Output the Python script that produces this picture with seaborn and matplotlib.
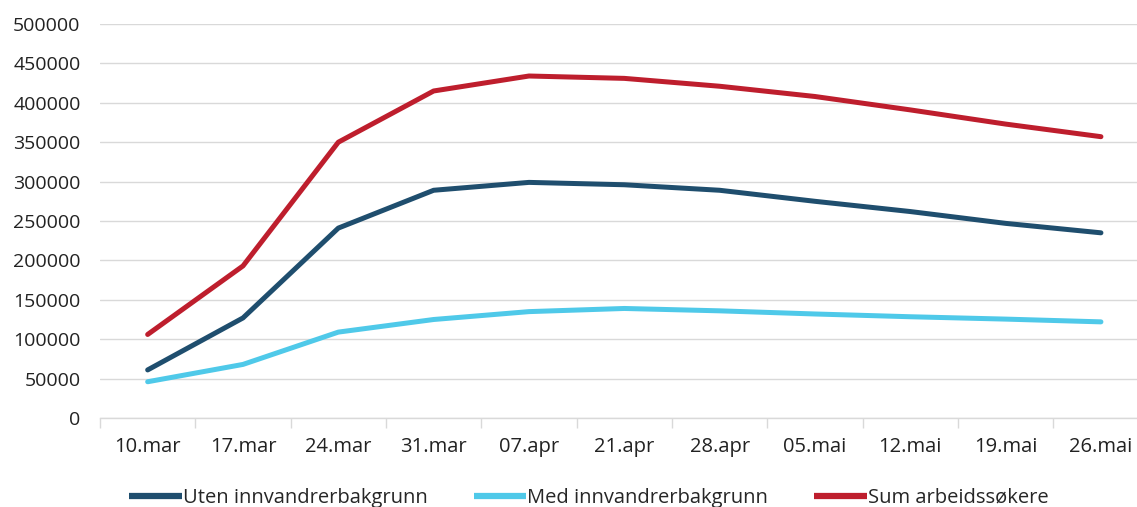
import numpy as np
import pandas as pd
import seaborn as sns
import matplotlib.pyplot as plt
from matplotlib.ticker import FixedLocator, FuncFormatter

# ── data ────────────────────────────────────────────────
weeks = ["10.mar", "17.mar", "24.mar", "31.mar", "07.apr", "21.apr",
         "28.apr", "05.mai", "12.mai", "19.mai", "26.mai"]
uten = [61000, 127000, 241000, 289000, 299000, 296000, 289000, 275000, 262000, 247000, 235000]
med = [46000, 68000, 109000, 125000, 135000, 139000, 136000, 132000, 128500, 125500, 122000]
total = [106000, 193000, 350000, 415000, 434000, 431000, 421000, 408000, 391000, 373000, 357000]

series = {"Uten innvandrerbakgrunn": uten,
          "Med innvandrerbakgrunn": med,
          "Sum arbeidssøkere": total}
colors = {"Uten innvandrerbakgrunn": "#1F4E6E",
          "Med innvandrerbakgrunn": "#4FC9E9",
          "Sum arbeidssøkere": "#BE1E2D"}

df = pd.concat([pd.DataFrame({"uke": weeks, "antall": v, "serie": k})
                for k, v in series.items()], ignore_index=True)

# ── style ───────────────────────────────────────────────
sns.set_theme(style="white")
plt.rcParams["font.family"] = ["Open Sans", "DejaVu Sans"]

fig = plt.figure(figsize=(11.37, 5.07), dpi=100)
ax = fig.add_axes([100 / 1137, 1 - 418 / 507, 1048.6 / 1137, 394 / 507])

sns.lineplot(data=df, x="uke", y="antall", hue="serie", palette=colors,
             linewidth=3.6, sort=False, legend=False, ax=ax,
             solid_capstyle="round")

ax.set_xlim(-0.5, len(weeks) - 0.5)
ax.set_ylim(0, 500000)
ax.set_yticks(np.arange(0, 500001, 50000))
ax.yaxis.set_major_formatter(FuncFormatter(lambda v, _: f"{int(v)}"))
ax.grid(axis="y", color="#D9D9D9", linewidth=1)
ax.set_axisbelow(True)
for s in ["top", "right", "left"]:
    ax.spines[s].set_visible(False)
ax.spines["bottom"].set_color("#D9D9D9")
ax.spines["bottom"].set_linewidth(1)

ax.xaxis.set_minor_locator(FixedLocator(np.arange(-0.5, len(weeks), 1.0)))
ax.tick_params(axis="x", which="major", length=0, pad=14, labelsize=14.5, colors="#222222")
ax.tick_params(axis="x", which="minor", length=7, width=1, color="#D9D9D9", bottom=True)
ax.tick_params(axis="y", length=0, pad=14, labelsize=14, colors="#222222")
ax.set_xlabel("")
ax.set_ylabel("")

handles = [plt.Line2D([], [], color=colors[k], linewidth=4.5, solid_capstyle="butt")
           for k in series]
fig.legend(handles, list(series.keys()), loc="center",
           bbox_to_anchor=(0.518, 1 - 498 / 507), ncol=3, frameon=False,
           fontsize=14.5, handlelength=2.6, handletextpad=0.05, columnspacing=2.3)

fig.savefig("out.png", dpi=100)
